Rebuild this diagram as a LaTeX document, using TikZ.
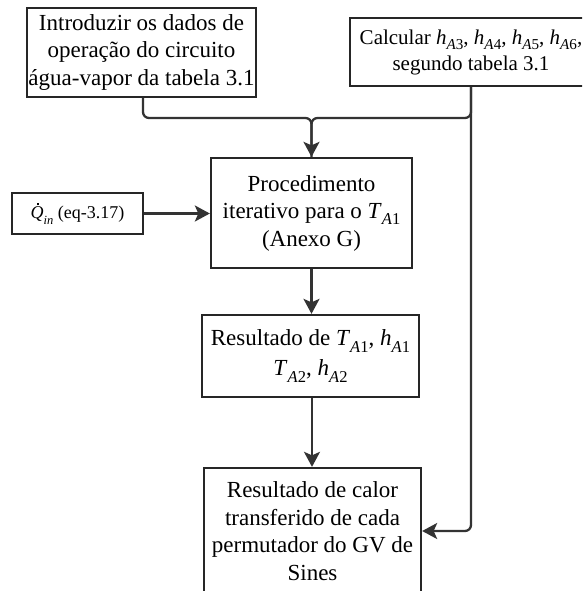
\documentclass[tikz,border=0pt]{standalone}
\usepackage{fontspec}
\setmainfont{Liberation Serif}
\usetikzlibrary{arrows.meta}

% subscripted symbol with index "A<n>"
\newcommand\symA[2]{\textit{#1}\raisebox{-0.28em}{\fontsize{0.72em}{1em}\selectfont\textit{A}#2}}
% heat rate symbol with a dot over the Q
\newcommand\qdotin{\leavevmode\rlap{\hspace{0.36em}\raisebox{0.76em}{\rule{0.13em}{0.13em}}}\textit{Q}\raisebox{-0.28em}{\fontsize{12.5}{13}\selectfont\textit{in}}}

\begin{document}
\begin{tikzpicture}[x=1pt,y=-1pt,
  box/.style={draw=black!85,line width=2.3pt,inner sep=0pt,align=center,
    font=\fontsize{23}{27.5}\selectfont},
  flow/.style={draw=black!80,line width=2.3pt,rounded corners=6pt,
    -{Stealth[length=15pt,width=16pt,inset=3.5pt]}},
  link/.style={draw=black!80,line width=2.3pt,rounded corners=6pt}]
\useasboundingbox (0,0) rectangle (582,591);
\clip (0,0) rectangle (582,591);

% boxes
\node[box,minimum width=229,minimum height=89] (dados) at (141.5,52.5)
  {Introduzir os dados de\\operação do circuito\\água-vapor da tabela 3.1};
\node[box,minimum width=242,minimum height=68,
  font=\fontsize{21}{26}\selectfont] (calc) at (471,52)
  {Calcular \symA{h}{3}, \symA{h}{4}, \symA{h}{5}, \symA{h}{6},\\segundo tabela 3.1};
\node[box,minimum width=201,minimum height=110] (proc) at (311.5,213)
  {Procedimento\\iterativo para o \symA{T}{1}\\(Anexo G)};
\node[box,minimum width=131,minimum height=41,
  font=\fontsize{18}{20}\selectfont] (qin) at (77.5,213.5)
  {\qdotin\ (eq-3.17)};
\node[box,minimum width=217,minimum height=82,
  font=\fontsize{23}{30}\selectfont] (res) at (310.5,356)
  {Resultado de \symA{T}{1}, \symA{h}{1}\\\symA{T}{2}, \symA{h}{2}};
\node[box,minimum width=217,minimum height=126] (calor) at (312.5,531)
  {Resultado de calor\\transferido de cada\\permutador do GV de\\Sines};

% junction above the iterative procedure
\coordinate (join) at (311.5,118);

% connectors
\draw[flow] ([xshift=1.5pt]dados.south) |- (join) -- (proc.north);
\draw[link] (calc.south) |- (join) -- (proc.north);
\draw[flow] (calc.south) |- (calor.east);
\draw[flow] (qin.east) -- (qin.east -| proc.west);
\draw[flow] (proc.south) -- (proc.south |- res.north);
\draw[flow] ([xshift=1.5pt]res.south) -- ([xshift=1.5pt]res.south |- calor.north);
\end{tikzpicture}
\end{document}
